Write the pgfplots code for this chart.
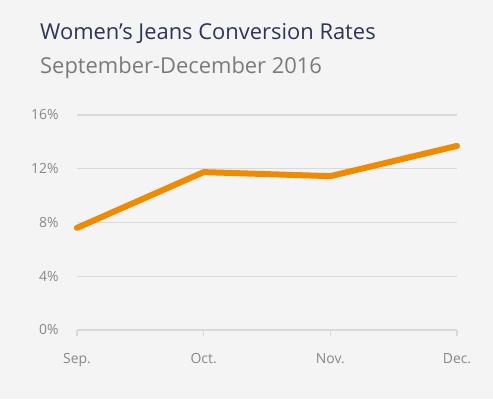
\documentclass[border=0pt]{standalone}
\usepackage{pgfplots}
\pgfplotsset{compat=1.18}
\usepackage{fontspec}
\setmainfont{Open Sans}
\definecolor{bg}{HTML}{F4F4F4}
\definecolor{titlec}{HTML}{2A3658}
\definecolor{subc}{HTML}{7A7A7A}
\definecolor{tickc}{HTML}{888888}
\definecolor{gridc}{HTML}{D9D9D9}
\definecolor{linec}{HTML}{F08A00}
\begin{document}
\begin{tikzpicture}[x=1bp,y=1bp]
\fill[bg] (0,0) rectangle (493,399);
\node[anchor=base west, inner sep=0, text=titlec, font=\fontsize{22}{24}\selectfont] at (40,360) {Women’s Jeans Conversion Rates};
\node[anchor=base west, inner sep=0, text=subc, font=\fontsize{22}{24}\selectfont] at (40,326) {September-December 2016};
\begin{axis}[
  at={(77bp,69bp)}, anchor=south west,
  scale only axis, width=380bp, height=215bp,
  xmin=0, xmax=3, ymin=0, ymax=16,
  clip=false,
  axis line style={draw=none},
  axis x line*=bottom,
  xtick={0,1,2,3}, xticklabels={Sep.,Oct.,Nov.,Dec.},
  ytick={0,4,8,12,16},
  yticklabel={\pgfmathprintnumber{\tick}\%},
  /pgf/number format/assume math mode=true,
  ymajorgrids, grid style={gridc, line width=1.2pt},
  major x tick style={draw=gridc, line width=1.2pt},
  major y tick style={draw=none},
  tick align=outside, major tick length=6bp,
  ticklabel style={text=tickc, font=\fontsize{14}{16}\selectfont},
  xticklabel style={yshift=-14bp},
  yticklabel style={xshift=-9bp},
]
\addplot[linec, line width=6bp, line cap=round, line join=round] coordinates {(0,7.6) (1,11.75) (2,11.45) (3,13.7)};
\end{axis}
\end{tikzpicture}
\end{document}
